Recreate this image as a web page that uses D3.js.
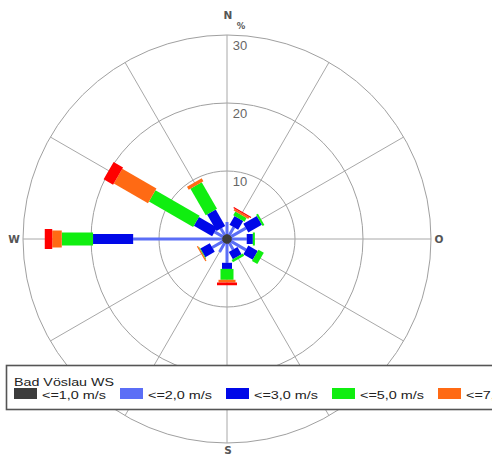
<!DOCTYPE html>
<html><head><meta charset="utf-8">
<script src="https://cdn.jsdelivr.net/npm/d3@7"></script>
<style>html,body{margin:0;padding:0;background:#fff;overflow:hidden}</style>
</head><body>
<svg id="chart" width="492" height="456"></svg>
<script>
// Directions (degrees from north, clockwise)
const directions = [0, 30, 60, 90, 120, 150, 180, 210, 240, 270, 300, 330];
// Speed classes
const classLabels = ["<=1,0 m/s", "<=2,0 m/s", "<=3,0 m/s", "<=5,0 m/s", "<=7,0 m/s", ">7,0 m/s"];
const classColors = ["#3c3c3c", "#5b6ef6", "#0008e8", "#10ee10", "#ff6a14", "#ff0000"];
// Frequency (%) of each class per direction
const cls1 = [0.7, 0.7, 0.7, 0.7, 0.7, 0.7, 0.7, 0.7, 0.7, 0.7, 0.7, 0.7];
const cls2 = [1.8, 1.3, 2.5, 2.2, 2.5, 1.1, 2.8, 1.5, 1.8, 13.1, 1.4, 1.1];
const cls3 = [0.0, 1.5, 2.3, 0.9, 1.6, 1.2, 0.9, 0.0, 1.6, 5.9, 3.1, 2.8];
const cls4 = [0.0, 0.6, 0.3, 0.3, 0.9, 0.4, 1.6, 0.0, 0.1, 4.6, 7.5, 4.5];
const cls5 = [0.0, 0.3, 0.0, 0.0, 0.0, 0.0, 0.4, 0.0, 0.2, 1.4, 5.8, 0.5];
const cls6 = [0.0, 0.2, 0.0, 0.0, 0.0, 0.0, 0.4, 0.0, 0.0, 1.1, 1.6, 0.0];
// Axis
const ringTicks = [10, 20, 30];
const compass = [{l:"N", a:0}, {l:"O", a:90}, {l:"S", a:180}, {l:"W", a:270}];
const stationName = "Bad Vöslau WS";

const classes = [cls1, cls2, cls3, cls4, cls5, cls6];
const classWidths = [4, 3, 10, 13, 17, 20];

const svg = d3.select("#chart");
const cx = 227, cy = 239, R = 204;
const r = d3.scaleLinear().domain([0, 30]).range([0, R]);
const ang = d3.scaleLinear().domain([0, 360]).range([0, 360]);

const g = svg.append("g").attr("transform", `translate(${cx},${cy})`);

// grid rings
g.selectAll("circle.ring").data(ringTicks).enter().append("circle")
  .attr("r", d => r(d)).attr("fill", "none").attr("stroke", "#a0a0a0").attr("stroke-width", 1);
// spokes
const spokes = d3.range(0, 360, 30);
g.selectAll("line.spoke").data(spokes).enter().append("line")
  .attr("x1", 0).attr("y1", 0)
  .attr("x2", d => r(30) * Math.sin(ang(d) * Math.PI / 180))
  .attr("y2", d => -r(30) * Math.cos(ang(d) * Math.PI / 180))
  .attr("stroke", "#a8a8a8").attr("stroke-width", 1);

// bars
const segs = [];
directions.forEach((dir, i) => {
  let cum = 0;
  classes.forEach((arr, k) => {
    const v = arr[i];
    if (v > 0) segs.push({dir, k, r0: cum, r1: cum + v});
    cum += v;
  });
});
g.selectAll("rect.seg").data(segs).enter().append("rect")
  .attr("transform", d => `rotate(${ang(d.dir)})`)
  .attr("x", d => -classWidths[d.k] / 2)
  .attr("width", d => classWidths[d.k])
  .attr("y", d => -r(d.r1))
  .attr("height", d => r(d.r1) - r(d.r0))
  .attr("fill", d => classColors[d.k]);

// ring labels
g.selectAll("text.rl").data(ringTicks).enter().append("text")
  .attr("x", 13).attr("y", d => -r(d) + 15)
  .attr("text-anchor", "middle")
  .attr("font-family", "Liberation Sans, Arial, sans-serif")
  .attr("font-size", 13).attr("fill", "#666")
  .text(d => d);

// compass labels
const pos = {0: [1, -224], 90: [212, 0], 180: [1, 211], 270: [-213, 0]};
g.selectAll("text.cp").data(compass).enter().append("text")
  .attr("x", d => pos[d.a][0])
  .attr("y", d => pos[d.a][1])
  .attr("dy", "0.35em")
  .attr("text-anchor", "middle")
  .attr("font-family", "DejaVu Sans, sans-serif")
  .attr("font-weight", "bold")
  .attr("font-size", 10.5).attr("fill", "#555")
  .text(d => d.l);
g.append("text").attr("x", 14).attr("y", -213)
  .attr("dy", "0.35em")
  .attr("text-anchor", "middle")
  .attr("font-family", "DejaVu Sans, sans-serif").attr("font-weight", "bold")
  .attr("font-size", 8.5).attr("fill", "#555").text("%");

// legend
const leg = svg.append("g");
leg.append("rect").attr("x", 6.5).attr("y", 365.5).attr("width", 520).attr("height", 44)
  .attr("fill", "#fff").attr("stroke", "#555").attr("stroke-width", 1.6);
leg.append("text").attr("x", 14).attr("y", 385.5)
  .attr("font-family", "Liberation Sans, Arial, sans-serif").attr("font-size", 11).attr("fill", "#222")
  .attr("textLength", 100).attr("lengthAdjust", "spacingAndGlyphs")
  .text(stationName);
const items = leg.selectAll("g.item").data(classLabels).enter().append("g")
  .attr("transform", (d, i) => `translate(${14 + i * 106},0)`);
items.append("rect").attr("x", 0).attr("y", 388).attr("width", 23).attr("height", 11)
  .attr("fill", (d, i) => classColors[i]);
items.append("text").attr("x", 28).attr("y", 398.5)
  .attr("font-family", "Liberation Sans, Arial, sans-serif").attr("font-size", 11.5).attr("fill", "#222")
  .attr("textLength", 64).attr("lengthAdjust", "spacingAndGlyphs")
  .text(d => d);
</script>
</body></html>
